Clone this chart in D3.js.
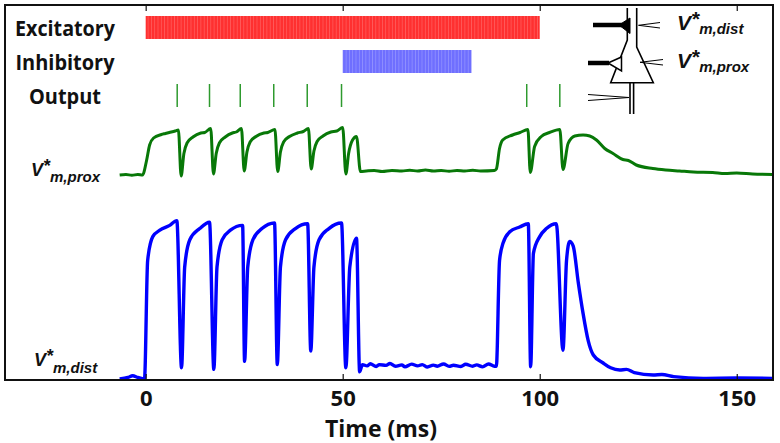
<!DOCTYPE html>
<html>
<head>
<meta charset="utf-8">
<script src="https://cdn.jsdelivr.net/npm/d3@7"></script>
<style>
  body { margin: 0; background: #fff; }
  text { font-family: "Open Sans", "Liberation Sans", sans-serif; font-weight: bold; fill: #111; }
  .vlab { font-family: "Liberation Sans", Arial, sans-serif; font-style: italic; font-weight: bold; }
</style>
</head>
<body>
<svg width="780" height="443"></svg>
<script>
const svg = d3.select('svg');

// ---- data ----
const inputNames = ['Excitatory', 'Inhibitory', 'Output'];
const labelWidths = [100, 99, 72];
const excWindow = [0, 100];
const inhWindow = [50, 82.7];
const outputSpikes = [8.0, 16.2, 24.0, 32.5, 41.0, 49.7, 96.7, 105.1];
const timeTicks = [0, 50, 100, 150];

// proximal voltage (normalised), [time ms, value]
const proxTrace = [
  [-6.6, 0.02], [-5, 0.03], [-3.5, 0.015], [-2, 0.03], [-0.8, 0.02], [0.2, 0.30], [1.0, 0.62], [2.0, 0.76],
  [4.0, 0.83], [5, 0.85], [6.0, 0.87], [7.5, 0.90], [8.3, 0.92],
  [9.0, 0.0], [9.7, 0.45], [10.5, 0.66], [12, 0.78], [14, 0.86], [15, 0.87], [16.5, 0.95],
  [17.2, 0.04], [17.9, 0.45], [18.7, 0.66], [20.2, 0.78], [22, 0.86], [23, 0.88], [24.3, 0.95],
  [25.0, 0.10], [25.7, 0.48], [26.5, 0.68], [28, 0.79], [30, 0.86], [31, 0.87], [32.8, 0.93],
  [33.5, 0.09], [34.2, 0.48], [35, 0.68], [36.5, 0.79], [38.5, 0.86], [40, 0.89], [41.3, 0.95],
  [42.0, 0.14], [42.7, 0.50], [43.5, 0.69], [45, 0.80], [47, 0.88], [48.5, 0.90], [50.0, 0.97],
  [50.8, 0.04], [51.5, 0.45], [52.5, 0.72], [53.5, 0.79], [54.5, 0.09],
  [56, 0.10], [58, 0.11], [60, 0.09], [62.5, 0.11], [65, 0.10], [67, 0.115], [69, 0.10], [71, 0.12],
  [73, 0.10], [75, 0.11], [77, 0.095], [79, 0.11], [81, 0.10], [83, 0.115], [85, 0.10], [88.5, 0.11],
  [89.0, 0.14], [89.8, 0.55], [90.6, 0.72], [93.1, 0.82], [95, 0.87], [97.0, 0.93],
  [97.6, 0.07], [98.7, 0.59], [100.4, 0.79], [102.5, 0.87], [105.1, 0.93],
  [105.9, 0.13], [107.2, 0.65], [108.9, 0.80], [111.0, 0.82], [112.7, 0.80], [114.4, 0.72],
  [116.5, 0.55], [118.6, 0.45], [121.1, 0.33], [122.5, 0.31], [124.5, 0.22], [128.7, 0.15], [132, 0.12],
  [135.5, 0.10], [139, 0.08], [143.9, 0.07], [147, 0.05], [150, 0.06], [154, 0.04], [159.1, 0.03]
];

// distal voltage (normalised), [time ms, value]
const distTrace = [
  [-6.6, 0.0], [-4.5, 0.01], [-3.3, 0.02], [-2, 0.01], [-0.3, 0.0], [0.5, 0.74], [1.8, 0.89],
  [3.6, 0.93], [6.1, 0.96], [7.9, 0.99],
  [9.1, 0.07], [9.9, 0.70], [11.2, 0.87], [13.7, 0.94], [16.2, 0.98],
  [17.3, 0.06], [18.1, 0.70], [19.4, 0.87], [21.5, 0.93], [24.6, 0.96],
  [25.1, 0.11], [25.9, 0.70], [27.2, 0.87], [29.5, 0.94], [32.7, 0.975],
  [33.4, 0.09], [34.2, 0.70], [35.5, 0.87], [38, 0.94], [41.1, 0.97],
  [41.9, 0.175], [42.7, 0.70], [44, 0.87], [46.5, 0.94], [49.7, 0.975],
  [50.8, 0.07], [51.8, 0.70], [53.5, 0.88], [54.3, 0.045],
  [55, 0.09], [56.2, 0.082], [57, 0.095], [58.5, 0.078], [59.3, 0.09], [61, 0.085], [62, 0.097],
  [63.4, 0.08], [65, 0.088], [65.8, 0.076], [67.5, 0.093], [69, 0.082], [70.2, 0.09], [71.5, 0.075],
  [73, 0.087], [74, 0.08], [75.6, 0.094], [77, 0.079], [78.1, 0.086], [80, 0.078], [81.2, 0.092],
  [83, 0.08], [84, 0.088], [85.5, 0.076], [87, 0.094], [88.5, 0.08],
  [89.0, 0.08], [89.8, 0.74], [90.7, 0.85], [92.4, 0.92], [94.9, 0.95], [97.1, 0.97],
  [97.7, 0.077], [98.4, 0.785], [100.0, 0.89], [101.7, 0.94], [104.2, 0.97],
  [105.9, 0.18], [106.8, 0.74], [107.6, 0.86], [108.5, 0.83], [109.8, 0.60], [111.0, 0.41],
  [112.3, 0.24], [113.6, 0.15], [116.1, 0.10], [118, 0.07], [120.3, 0.056], [122, 0.06], [124, 0.04],
  [128.8, 0.025], [131, 0.028], [134, 0.015], [141.5, 0.004], [150, 0.006], [159.1, 0.004]
];

// ---- scales ----
const x = d3.scaleLinear().domain([-35.7, 159.2]).range([5, 773]);
const yProx = d3.scaleLinear().domain([0, 1]).range([176, 126]);
const yDist = d3.scaleLinear().domain([0, 1]).range([379, 219]);
const rowY = d3.scaleBand().domain(inputNames).range([16, 107]).paddingInner(0.324);

// stripes inside the input bars
const defs = svg.append('defs');
const stripes = [['excPat', '#ff3030', '#ff6a6a'], ['inhPat', '#6f6fff', '#9c9cff']];
stripes.forEach(([id, base, light]) => {
  const p = defs.append('pattern').attr('id', id)
      .attr('patternUnits', 'userSpaceOnUse').attr('width', 3.3).attr('height', 40);
  p.append('rect').attr('width', 3.3).attr('height', 40).attr('fill', base);
  p.append('rect').attr('x', 2.7).attr('width', 0.6).attr('height', 40).attr('fill', light);
});

// ---- input rows ----
svg.selectAll('.rowlab').data(inputNames).enter().append('text')
    .attr('class', 'rowlab')
    .attr('x', 65)
    .attr('y', d => rowY(d) + 20)
    .attr('text-anchor', 'middle')
    .attr('font-size', 22)
    .attr('textLength', (d, i) => labelWidths[i])
    .attr('lengthAdjust', 'spacingAndGlyphs')
    .text(d => d);

svg.append('rect')
    .attr('x', x(excWindow[0])).attr('width', x(excWindow[1]) - x(excWindow[0]))
    .attr('y', rowY('Excitatory')).attr('height', rowY.bandwidth())
    .attr('fill', 'url(#excPat)');

svg.append('rect')
    .attr('x', x(inhWindow[0])).attr('width', x(inhWindow[1]) - x(inhWindow[0]))
    .attr('y', rowY('Inhibitory')).attr('height', rowY.bandwidth())
    .attr('fill', 'url(#inhPat)');

svg.selectAll('.spike').data(outputSpikes).enter().append('line')
    .attr('class', 'spike')
    .attr('x1', d => x(d)).attr('x2', d => x(d))
    .attr('y1', rowY('Output')).attr('y2', rowY('Output') + rowY.bandwidth())
    .attr('stroke', '#2e9a2e').attr('stroke-width', 1.5);

// ---- traces ----
const lineProx = d3.line().x(d => x(d[0])).y(d => yProx(d[1])).curve(d3.curveMonotoneX);
const lineDist = d3.line().x(d => x(d[0])).y(d => yDist(d[1])).curve(d3.curveMonotoneX);

svg.append('path').datum(distTrace)
    .attr('d', lineDist)
    .attr('fill', 'none').attr('stroke', '#0000ff')
    .attr('stroke-width', 3.4).attr('stroke-linejoin', 'round');

svg.append('path').datum(proxTrace)
    .attr('d', lineProx)
    .attr('fill', 'none').attr('stroke', '#087808')
    .attr('stroke-width', 3).attr('stroke-linejoin', 'round');

// ---- frame and axis ----
svg.append('rect')
    .attr('x', 5).attr('y', 5).attr('width', 768).attr('height', 375)
    .attr('fill', 'none').attr('stroke', '#111').attr('stroke-width', 2);

const xAxis = d3.axisBottom(x).tickValues(timeTicks).tickSize(-6).tickPadding(10);
const gx = svg.append('g').attr('transform', 'translate(0,380)').call(xAxis);
gx.select('.domain').remove();
gx.selectAll('.tick line').attr('stroke', '#111').attr('stroke-width', 1.2);
gx.selectAll('.tick text')
    .attr('font-family', '"Open Sans", sans-serif').attr('font-weight', 'bold')
    .attr('font-size', 22).attr('fill', '#111');

const xTop = d3.axisTop(x).tickValues(timeTicks).tickSize(-6).tickFormat('');
const gt = svg.append('g').attr('transform', 'translate(0,5)').call(xTop);
gt.select('.domain').remove();
gt.selectAll('.tick line').attr('stroke', '#111').attr('stroke-width', 1.2);

svg.append('text')
    .attr('x', 381).attr('y', 437)
    .attr('text-anchor', 'middle')
    .attr('font-size', 23)
    .text('Time (ms)');

// ---- V* labels ----
const vLabel = (x0, y0, size, subSize, subDy, sub) => {
  const t = svg.append('text').attr('class', 'vlab').attr('x', x0).attr('y', y0).attr('font-size', size);
  t.append('tspan').text('V');
  t.append('tspan').attr('dy', -size * 0.2).attr('font-size', size).text('*');
  t.append('tspan').attr('dy', size * 0.2 + subDy)
      .attr('font-size', subSize).text(sub);
};
vLabel(31, 176, 18, 15, 6, 'm,prox');
vLabel(34, 366, 18, 15, 7, 'm,dist');
vLabel(677, 30, 21, 15, 3.5, 'm,dist');
vLabel(677, 68, 21, 15, 4, 'm,prox');

// ---- neuron sketch ----
const g = svg.append('g').attr('fill', 'none').attr('stroke', '#000');
g.append('path').attr('stroke-width', 1.6)
    .attr('d', 'M627.3,8V40L610.7,82.7H653.3L636.7,47V8');
g.append('path').attr('stroke-width', 1.6).attr('d', 'M630,82.7V114M633.6,82.7V114');
g.append('path').attr('stroke-width', 4.5).attr('d', 'M593,25H622');
g.append('path').attr('fill', '#000').attr('stroke-width', 1).attr('d', 'M619,25L630,18V33.5Z');
g.append('path').attr('stroke-width', 4.5).attr('d', 'M588,63H609');
g.append('path').attr('fill', '#fff').attr('stroke-width', 1.5).attr('d', 'M608,63L621.5,57V71Z');
g.append('path').attr('stroke-width', 1).attr('d', 'M660,22.5L638.5,25.3L660,28');
g.append('path').attr('stroke-width', 1).attr('d', 'M663,59.5L640,62.3L663,65');
g.append('path').attr('stroke-width', 1).attr('d', 'M588,94.5L629,97.5L588,100.5');
</script>
</body>
</html>
